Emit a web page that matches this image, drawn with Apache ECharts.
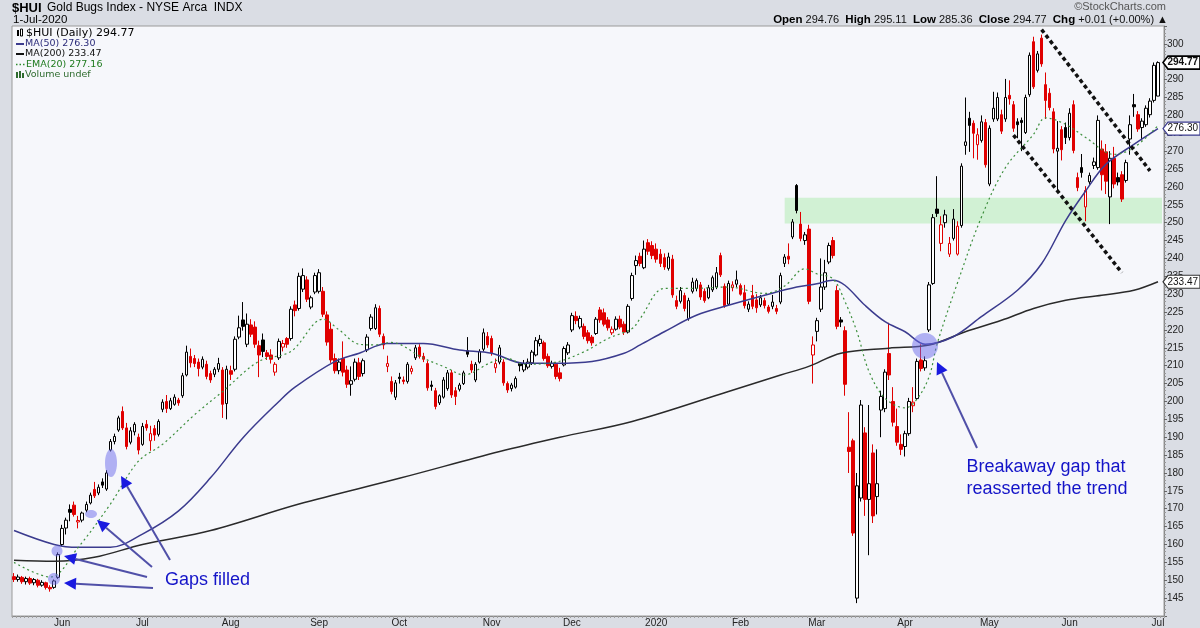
<!DOCTYPE html>
<html><head><meta charset="utf-8">
<script src="https://cdn.jsdelivr.net/npm/echarts@6/dist/echarts.min.js"></script>
<style>html,body{margin:0;padding:0;background:#dadde4}#c{width:1200px;height:628px}</style>
</head><body><div id="c"></div>
<script>
const dates = [
'2019-05-15','2019-05-16','2019-05-17','2019-05-20','2019-05-21','2019-05-22','2019-05-23','2019-05-24','2019-05-28','2019-05-29','2019-05-30','2019-05-31',
'2019-06-03','2019-06-04','2019-06-05','2019-06-06','2019-06-07','2019-06-10','2019-06-11','2019-06-12','2019-06-13','2019-06-14','2019-06-17','2019-06-18','2019-06-19','2019-06-20','2019-06-21','2019-06-24','2019-06-25','2019-06-26','2019-06-27','2019-06-28',
'2019-07-01','2019-07-02','2019-07-03','2019-07-05','2019-07-08','2019-07-09','2019-07-10','2019-07-11','2019-07-12','2019-07-15','2019-07-16','2019-07-17','2019-07-18','2019-07-19','2019-07-22','2019-07-23','2019-07-24','2019-07-25','2019-07-26','2019-07-29','2019-07-30','2019-07-31',
'2019-08-01','2019-08-02','2019-08-05','2019-08-06','2019-08-07','2019-08-08','2019-08-09','2019-08-12','2019-08-13','2019-08-14','2019-08-15','2019-08-16','2019-08-19','2019-08-20','2019-08-21','2019-08-22','2019-08-23','2019-08-26','2019-08-27','2019-08-28','2019-08-29','2019-08-30',
'2019-09-03','2019-09-04','2019-09-05','2019-09-06','2019-09-09','2019-09-10','2019-09-11','2019-09-12','2019-09-13','2019-09-16','2019-09-17','2019-09-18','2019-09-19','2019-09-20','2019-09-23','2019-09-24','2019-09-25','2019-09-26','2019-09-27','2019-09-30',
'2019-10-01','2019-10-02','2019-10-03','2019-10-04','2019-10-07','2019-10-08','2019-10-09','2019-10-10','2019-10-11','2019-10-14','2019-10-15','2019-10-16','2019-10-17','2019-10-18','2019-10-21','2019-10-22','2019-10-23','2019-10-24','2019-10-25','2019-10-28','2019-10-29','2019-10-30','2019-10-31',
'2019-11-01','2019-11-04','2019-11-05','2019-11-06','2019-11-07','2019-11-08','2019-11-11','2019-11-12','2019-11-13','2019-11-14','2019-11-15','2019-11-18','2019-11-19','2019-11-20','2019-11-21','2019-11-22','2019-11-25','2019-11-26','2019-11-27','2019-11-29',
'2019-12-02','2019-12-03','2019-12-04','2019-12-05','2019-12-06','2019-12-09','2019-12-10','2019-12-11','2019-12-12','2019-12-13','2019-12-16','2019-12-17','2019-12-18','2019-12-19','2019-12-20','2019-12-23','2019-12-24','2019-12-26','2019-12-27','2019-12-30','2019-12-31',
'2020-01-02','2020-01-03','2020-01-06','2020-01-07','2020-01-08','2020-01-09','2020-01-10','2020-01-13','2020-01-14','2020-01-15','2020-01-16','2020-01-17','2020-01-21','2020-01-22','2020-01-23','2020-01-24','2020-01-27','2020-01-28','2020-01-29','2020-01-30','2020-01-31',
'2020-02-03','2020-02-04','2020-02-05','2020-02-06','2020-02-07','2020-02-10','2020-02-11','2020-02-12','2020-02-13','2020-02-14','2020-02-18','2020-02-19','2020-02-20','2020-02-21','2020-02-24','2020-02-25','2020-02-26','2020-02-27','2020-02-28',
'2020-03-02','2020-03-03','2020-03-04','2020-03-05','2020-03-06','2020-03-09','2020-03-10','2020-03-11','2020-03-12','2020-03-13','2020-03-16','2020-03-17','2020-03-18','2020-03-19','2020-03-20','2020-03-23','2020-03-24','2020-03-25','2020-03-26','2020-03-27','2020-03-30','2020-03-31',
'2020-04-01','2020-04-02','2020-04-03','2020-04-06','2020-04-07','2020-04-08','2020-04-09','2020-04-13','2020-04-14','2020-04-15','2020-04-16','2020-04-17','2020-04-20','2020-04-21','2020-04-22','2020-04-23','2020-04-24','2020-04-27','2020-04-28','2020-04-29','2020-04-30',
'2020-05-01','2020-05-04','2020-05-05','2020-05-06','2020-05-07','2020-05-08','2020-05-11','2020-05-12','2020-05-13','2020-05-14','2020-05-15','2020-05-18','2020-05-19','2020-05-20','2020-05-21','2020-05-22','2020-05-26','2020-05-27','2020-05-28','2020-05-29',
'2020-06-01','2020-06-02','2020-06-03','2020-06-04','2020-06-05','2020-06-08','2020-06-09','2020-06-10','2020-06-11','2020-06-12','2020-06-15','2020-06-16','2020-06-17','2020-06-18','2020-06-19','2020-06-22','2020-06-23','2020-06-24','2020-06-25','2020-06-26','2020-06-29','2020-06-30',
'2020-07-01'];

// [open, close, low, high]
const ohlc = [
[151.0,150.2,149.5,152.0],[150.2,150.9,149.6,151.6],[150.8,149.6,149.0,151.2],[149.6,150.5,148.8,151.0],[150.5,149.2,148.7,151.0],[149.3,150.2,148.6,150.6],[150.0,148.6,148.0,150.4],[148.6,149.4,148.2,150.0],[149.3,148.0,147.4,149.6],[148.0,147.6,146.8,148.6],
[148.0,149.8,147.6,150.2],[150.8,157.2,150.4,157.8],[160.0,164.5,159.5,165.5],[164.6,166.8,162.8,167.5],[169.8,169.0,166.5,171.2],[171.0,168.4,167.8,172.0],[166.3,166.7,164.5,168.0],[166.8,168.8,166.2,169.2],[169.6,171.2,169.0,172.0],[171.6,173.8,171.2,174.5],
[175.4,173.6,173.0,177.5],[174.4,176.0,173.8,176.8],[177.5,176.6,175.8,178.5],[175.5,180.0,175.0,180.8],[186.4,188.8,186.0,189.5],[188.8,190.2,188.0,191.0],[192.0,195.4,191.5,196.0],[197.2,192.6,192.0,198.6],[192.6,187.4,186.6,194.0],[188.6,191.8,188.0,192.8],
[191.5,193.6,190.5,194.2],[190.0,186.4,185.2,191.0],[188.0,193.0,187.6,194.0],[193.6,192.6,191.8,194.8],[189.0,191.0,186.2,193.2],[192.4,190.6,189.0,193.4],[190.8,194.4,190.2,195.0],[197.8,199.8,197.0,200.6],[200.0,198.0,196.8,201.8],[198.0,200.2,197.6,201.0],
[199.2,201.2,198.8,202.0],[200.4,199.6,198.8,201.0],[201.6,207.2,201.0,208.0],[207.4,213.8,207.0,215.6],[212.6,210.8,209.5,214.8],[212.0,210.6,209.6,213.0],[211.0,209.2,207.0,212.0],[209.6,211.8,209.0,212.6],[210.4,207.0,206.2,211.4],[207.8,206.0,205.2,208.6],
[207.6,209.0,206.8,209.6],[209.0,210.6,208.2,212.2],[208.8,199.2,195.4,209.6],[199.4,209.0,195.0,210.0],[208.6,207.6,206.0,210.0],[209.0,217.4,208.4,218.2],[218.0,220.6,217.4,224.0],[222.8,221.0,219.8,227.8],[216.0,221.6,215.2,224.6],[221.4,218.8,218.0,223.0],
[220.8,216.0,215.0,222.4],[215.6,213.0,206.8,217.0],[217.2,214.0,212.4,219.0],[213.6,212.6,211.6,214.4],[213.0,211.8,210.6,214.6],[208.2,210.4,207.2,211.0],[212.2,216.8,211.6,217.6],[215.2,216.2,214.0,217.2],[217.6,216.0,215.0,218.0],[217.6,225.8,217.0,226.6],
[227.0,225.4,223.8,228.2],[226.0,235.0,225.4,236.0],[231.4,235.2,230.6,237.2],[234.0,228.6,227.8,235.0],[226.4,229.0,225.8,229.6],[230.6,235.2,230.0,236.0],[230.8,236.0,230.2,237.0],[230.8,224.4,223.6,232.0],[224.2,216.6,215.6,225.2],[220.2,211.6,210.8,222.0],
[212.0,208.6,207.8,213.4],[208.6,211.0,207.6,212.0],[212.0,208.2,207.0,216.8],[208.8,204.8,203.8,210.0],[204.8,205.8,201.6,209.8],[206.2,211.0,205.6,212.0],[210.8,207.0,206.0,212.2],[207.8,211.4,207.0,212.0],[214.4,218.0,213.8,218.8],[220.4,223.6,219.8,224.4],
[220.4,226.2,220.0,227.2],[226.0,218.8,218.0,226.8],[218.2,215.8,214.6,219.0],[209.8,210.6,208.2,212.8],[205.6,202.8,202.0,207.0],[201.2,205.2,200.4,206.0],[206.8,206.4,205.0,208.0],[206.0,205.6,204.8,207.0],[205.6,210.4,205.0,211.0],[208.4,209.2,207.6,210.0],
[212.2,215.0,211.6,215.8],[215.2,212.6,212.0,216.0],[212.6,211.8,211.0,213.6],[210.6,203.8,203.0,211.4],[204.6,204.2,203.0,205.8],[203.0,198.6,197.8,203.8],[199.6,201.6,199.0,202.0],[201.2,206.0,200.8,206.8],[203.6,208.0,203.0,208.8],[208.0,201.8,201.0,208.8],
[203.0,201.4,199.0,204.0],[203.4,204.6,202.8,205.2],[205.0,208.0,204.6,208.6],[214.2,213.2,212.4,218.0],[210.4,208.8,208.0,211.4],[206.0,210.4,205.4,211.0],[211.0,214.0,210.6,214.6],[214.6,219.2,214.0,220.4],[218.2,215.8,215.0,219.4],[217.6,213.6,212.8,218.4],
[209.4,210.6,208.0,212.0],[211.0,215.0,210.4,215.8],[211.0,205.2,204.4,211.8],[205.0,203.2,202.4,205.6],[203.6,204.6,202.8,205.2],[204.0,206.4,203.6,207.0],[210.6,210.0,208.4,211.0],[208.8,210.6,208.2,211.6],[209.6,211.0,209.0,212.0],[210.8,213.8,210.2,214.4],
[213.0,217.0,212.6,218.0],[216.2,217.4,215.4,218.6],[216.4,212.0,211.4,217.0],[212.6,210.0,209.4,213.4],[209.8,210.6,209.2,211.4],[210.4,207.0,206.2,211.0],[208.0,206.4,205.6,209.4],[210.2,214.8,209.8,215.4],[213.6,215.8,213.0,216.6],[220.0,224.0,219.4,224.8],
[223.8,222.6,221.6,225.2],[220.8,223.2,220.2,224.0],[221.0,218.2,217.4,221.8],[219.2,217.0,216.2,220.0],[218.0,216.4,215.6,218.6],[219.0,223.0,218.6,223.6],[225.6,222.8,222.0,226.4],[224.8,221.6,221.0,226.0],[222.8,220.6,219.8,223.6],[219.2,220.2,218.6,221.0],
[220.2,223.0,219.8,223.8],[223.0,220.8,220.2,224.0],[221.6,219.4,218.6,222.4],[219.4,226.6,219.0,227.2],[228.8,235.2,228.2,236.0],[238.0,239.4,235.4,240.8],[240.6,238.6,237.8,241.6],[237.4,242.6,237.0,245.0],[244.4,242.0,241.0,245.4],[243.6,240.8,239.8,244.8],
[242.6,239.8,238.8,244.2],[241.2,238.6,237.6,242.6],[240.2,237.6,236.8,241.4],[237.2,240.4,236.6,241.6],[239.8,229.8,229.0,241.0],[228.2,226.6,225.8,229.6],[228.0,231.0,227.4,232.0],[229.6,226.0,225.2,230.4],[223.2,228.2,222.6,229.0],[230.8,233.4,230.2,234.6],
[231.6,233.8,230.8,234.4],[232.6,229.2,228.4,233.4],[230.8,228.2,227.6,231.6],[229.0,231.8,228.6,232.6],[231.2,234.6,230.6,235.2],[232.0,236.0,231.4,237.6],[240.8,235.4,234.8,241.6],[232.2,226.8,226.2,233.0],[227.2,233.0,226.8,233.8],[231.8,232.6,230.8,233.6],
[232.8,234.0,232.0,236.6],[232.4,230.0,229.6,233.0],[230.4,226.8,226.0,232.6],[225.8,227.2,225.0,228.0],[229.6,226.6,225.8,232.6],[228.4,226.2,224.8,230.0],[227.0,229.0,226.4,229.8],[228.2,226.8,226.0,229.0],[226.4,225.2,224.6,227.0],[226.6,227.8,225.8,229.8],
[226.0,225.2,224.4,227.0],[227.8,235.2,227.2,236.0],[238.6,240.4,237.6,241.2],[240.6,239.8,238.4,244.2],[246.0,250.2,245.4,251.0],[260.4,253.4,252.6,260.8],[249.6,245.6,244.8,253.0],[245.0,246.6,243.8,247.4],[248.2,228.0,227.2,249.4],[213.0,215.8,205.0,218.2],
[219.6,222.6,216.8,223.4],[225.8,232.0,225.0,240.0],[232.0,236.0,231.2,239.6],[239.0,243.6,238.4,244.4],[245.0,240.8,240.0,246.0],[231.0,221.0,220.2,232.4],[222.8,222.2,220.8,223.6],[219.8,204.8,201.6,221.0],[187.2,186.0,180.0,197.0],[189.0,163.2,162.4,189.6],
[145.0,176.4,143.6,180.0],[173.0,199.0,172.0,200.4],[191.2,172.6,168.0,192.8],[172.6,177.0,157.0,199.0],[185.6,168.0,166.0,188.0],[173.4,177.0,168.4,186.6],[197.6,201.4,190.0,203.0],[198.0,208.2,197.0,209.0],[213.4,207.4,206.0,222.0],[200.0,194.2,193.0,204.0],
[193.0,188.6,187.6,198.0],[188.0,186.6,185.0,190.8],[187.4,191.0,184.6,191.8],[191.0,200.0,190.4,201.0],[198.8,199.8,197.0,204.0],[200.8,211.2,200.4,212.0],[211.6,209.2,208.4,216.0],[209.4,211.4,208.6,212.6],[220.0,232.6,219.4,233.4],[233.0,251.4,232.6,252.4],
[253.8,252.6,251.6,263.0],[244.2,249.4,242.0,251.8],[250.0,252.2,248.6,253.6],[241.2,244.2,240.4,246.0],[245.6,251.0,245.0,253.8],[241.2,249.0,240.8,250.4],[249.2,265.8,248.6,266.6],[271.6,272.6,269.0,285.0],[279.2,277.2,269.8,281.0],[277.8,275.0,268.0,278.6],
[271.8,274.6,267.6,276.4],[273.0,278.2,272.4,280.0],[278.0,266.2,265.4,279.0],[260.8,276.4,260.2,277.2],[279.0,282.0,278.2,286.6],[279.0,285.0,278.4,286.4],[280.2,275.6,274.8,281.6],[279.0,285.0,278.2,290.2],[285.6,284.6,283.0,289.8],[283.0,276.4,275.4,284.0],
[278.2,277.4,273.6,279.2],[278.6,278.0,270.0,279.4],[275.2,285.0,274.8,285.8],[285.8,296.8,285.2,297.6],[300.6,288.0,287.4,302.0],[292.6,297.2,292.0,298.0],[301.6,294.4,293.6,302.6],[288.6,284.2,279.0,292.0],[286.2,282.2,281.4,287.6],[281.0,270.6,269.4,282.0],
[270.0,270.8,258.4,278.4],[276.0,270.4,267.4,277.0],[276.6,273.8,272.0,278.0],[273.8,280.6,273.0,282.0],[283.0,270.2,269.4,284.2],[262.6,259.8,258.8,264.0],[265.4,264.0,262.6,269.2],[254.4,259.0,250.4,260.2],[261.4,263.2,260.6,264.0],[266.0,267.0,265.0,268.2],
[265.4,278.6,264.8,280.0],[270.6,263.4,259.0,273.0],[269.8,261.6,258.0,272.0],[257.2,268.0,249.6,270.0],[268.0,260.8,259.6,271.2],[262.6,261.4,260.4,264.0],[263.4,256.6,255.8,264.4],[261.8,266.8,261.2,267.6],[273.4,277.4,269.0,280.0],[283.0,282.4,279.6,286.0],
[280.2,276.2,275.4,281.2],[276.6,278.4,273.0,279.2],[277.4,282.0,276.8,282.8],[280.2,284.0,279.4,284.8],[284.2,294.0,283.6,294.8],[285.4,294.77,285.36,295.11]];

// moving averages: [candle index, value]
const ma50 = [[0,163.9],[10,160.0],[16,159.2],[24,159.2],[32,162.9],[41,169.4],[49,178.7],[57,189.8],[66,200.0],[70,204.0],[80,211.2],[86,213.5],[93,216.2],[102,216.2],[111,214.4],[119,213.5],[127,210.7],[135,210.7],[144,211.2],[152,213.5],[156,215.8],[162,219.5],[170,224.1],[178,226.9],[187,229.7],[195,232.0],[200,232.9],[204,233.9],[207,232.5],[212,226.9],[217,222.3],[222,219.5],[227,216.0],[234,218.1],[241,223.7],[250,231.1],[256,238.5],[262,250.6],[267,258.9],[272,266.3],[279,271.9],[285,276.3]];
const ma200 = [[0,155.6],[10,155.3],[20,156.4],[32,160.0],[49,163.9],[71,171.3],[96,178.5],[121,186.0],[136,190.0],[154,194.4],[178,202.8],[191,207.4],[198,209.8],[206,213.5],[218,214.9],[228,215.8],[237,219.5],[246,222.7],[254,226.0],[262,228.3],[271,229.7],[279,231.1],[285,233.47]];
const ema20 = [[0,155.0],[9,150.9],[16,159.2],[24,171.3],[31,183.3],[37,188.0],[45,196.3],[52,202.8],[61,211.2],[69,214.0],[77,223.0],[81,220.0],[86,216.0],[90,215.8],[94,216.5],[102,212.1],[108,209.3],[112,207.4],[119,211.0],[123,212.0],[127,210.4],[135,211.0],[142,213.9],[148,217.6],[154,220.4],[156,223.2],[162,231.6],[169,231.6],[178,232.0],[187,230.2],[192,232.3],[197,237.1],[200,235.7],[204,234.3],[207,228.0],[210,219.5],[213,208.4],[217,200.9],[222,198.2],[225,200.7],[228,207.0],[230,216.2],[235,233.0],[241,251.5],[247,265.4],[254,274.7],[257,279.3],[262,277.5],[267,273.8],[274,269.1],[279,271.0],[285,277.16]];

const gapZone = [192, 249.8, 257.0];           // start index, low, high
const trendLines = [[[256,304.0],[283,264.5]], [[249,274.5],[276,236.0]]];
const lastValues = {price: 294.77, ma50: 276.30, ma200: 233.47, ema20: 277.16};
const monthNames = ['Jan','Feb','Mar','Apr','May','Jun','Jul','Aug','Sep','Oct','Nov','Dec'];

const cats = dates.concat(['']);
const candleData = ohlc.map((d, i) => {
  const prev = i > 0 ? ohlc[i-1][1] : d[0];
  const stroke = d[1] >= prev ? '#000000' : '#e00000';
  const fill = d[1] > d[0] ? '#ffffff' : stroke;
  return {value: d, itemStyle: {color: fill, color0: fill, borderColor: stroke, borderColor0: stroke, borderColorDoji: stroke}};
});

const chart = echarts.init(document.getElementById('c'), null, {renderer: 'canvas'});
const AR = '"Liberation Sans", Arial, sans-serif';
chart.setOption({
  animation: false,
  backgroundColor: '#dadde4',
  grid: {left: 12, right: 36, top: 26, bottom: 9, show: true, backgroundColor: '#f6f7fb', borderColor: '#9a9a9a', borderWidth: 1},
  xAxis: {
    type: 'category', data: cats, boundaryGap: true,
    axisLine: {show: true, lineStyle: {color: '#8a8a8a'}},
    axisTick: {show: true, interval: 0, length: 2, lineStyle: {color: '#a0a0a0'}},
    axisLabel: {
      interval: (idx, val) => idx > 0 && val !== '' && val.slice(5,7) !== cats[idx-1].slice(5,7),
      formatter: v => v.slice(5,7) === '01' ? v.slice(0,4) : monthNames[+v.slice(5,7) - 1],
      fontSize: 10, color: '#222', margin: 2, fontFamily: AR
    },
    splitLine: {show: false}
  },
  yAxis: {
    type: 'value', position: 'right', min: 140, max: 305, interval: 5, scale: true,
    axisLine: {show: true, lineStyle: {color: '#8a8a8a'}},
    axisTick: {show: true, length: 3, lineStyle: {color: '#666'}},
    minorTick: {show: true, splitNumber: 5, length: 2, lineStyle: {color: '#999'}},
    axisLabel: {fontSize: 10, color: '#222', margin: 3, showMinLabel: false, showMaxLabel: false, fontFamily: AR},
    splitLine: {show: false}
  },
  series: [
    {type: 'line', data: [], z: 1, silent: true,
     markArea: {silent: true, itemStyle: {color: 'rgba(140,228,140,0.35)'},
       data: [[{xAxis: gapZone[0], yAxis: gapZone[1]}, {xAxis: cats.length - 1, yAxis: gapZone[2]}]]}},
    {type: 'candlestick', data: candleData, barWidth: 3, z: 3},
    {type: 'line', name: 'MA200', data: ma200, smooth: 0.35, showSymbol: false, z: 4, lineStyle: {color: '#2a2a2a', width: 1.5}},
    {type: 'line', name: 'MA50', data: ma50, smooth: 0.35, showSymbol: false, z: 4, lineStyle: {color: '#3b3b8e', width: 1.5}},
    {type: 'line', name: 'EMA20', data: ema20, smooth: 0.35, showSymbol: false, z: 4, lineStyle: {color: '#3d8f3d', width: 1.2, type: [2,3]}},
    {type: 'line', data: [], z: 5, silent: true,
     markLine: {silent: true, symbol: ['none','none'], label: {show: false},
       lineStyle: {color: '#111', width: 3.5, type: [4,3]},
       data: trendLines.map(l => [{coord: l[0]}, {coord: l[1]}])}}
  ]
});

function arrow(x1, y1, x2, y2) {
  const dx = x2 - x1, dy = y2 - y1, L = Math.hypot(dx, dy), ux = dx / L, uy = dy / L;
  const bx = x2 - 12 * ux, by = y2 - 12 * uy, px = -uy, py = ux;
  return [
    {type: 'line', z: 100, shape: {x1, y1, x2: bx, y2: by}, style: {stroke: '#5050a8', lineWidth: 2}},
    {type: 'polygon', z: 101, shape: {points: [[x2, y2], [bx + 6 * px, by + 6 * py], [bx - 6 * px, by - 6 * py]]}, style: {fill: '#1a1ae0'}}
  ];
}
function tag(v, color, bold) {
  const y = chart.convertToPixel({yAxisIndex: 0}, v);
  return [
    {type: 'polygon', z: 110, shape: {points: [[1163, y], [1168, y - 6.5], [1200, y - 6.5], [1200, y + 6.5], [1168, y + 6.5]]}, style: {fill: '#ffffff', stroke: color, lineWidth: bold ? 1.6 : 1.2}},
    {type: 'text', z: 111, x: 1167.5, y: y, style: {text: v.toFixed(2), fill: '#111', font: (bold ? 'bold ' : '') + '10px ' + AR, textVerticalAlign: 'middle'}}
  ];
}
function txt(x, y, text, font, fill, align) {
  return {type: 'text', z: 100, x, y, style: {text, font, fill: fill || '#000', textAlign: align || 'left', textVerticalAlign: 'middle'}};
}
const blob = 'rgba(105,105,235,0.5)';
const DV = '"DejaVu Sans", Verdana, sans-serif';
let g = [
  // header
  txt(12, 8, '$HUI', 'bold 13px ' + AR),
  txt(47, 8, 'Gold Bugs Index - NYSE Arca  INDX', '12px ' + AR),
  txt(13, 20, '1-Jul-2020', '11.5px ' + AR),
  txt(1166, 7, '\u00a9StockCharts.com', '11px ' + AR, '#555', 'right'),
  {type: 'text', z: 100, x: 1168, y: 20, style: {
    text: '{b|Open} 294.76  {b|High} 295.11  {b|Low} 285.36  {b|Close} 294.77  {b|Chg} +0.01 (+0.00%) \u25b2',
    font: '11px ' + AR, fill: '#111', textAlign: 'right', textVerticalAlign: 'middle',
    rich: {b: {fontWeight: 'bold', fontSize: 11.5, fontFamily: AR, fill: '#000'}}}},
  // legend
  {type: 'rect', z: 100, shape: {x: 17, y: 30, width: 2, height: 6}, style: {fill: '#000'}},
  {type: 'rect', z: 100, shape: {x: 20.5, y: 29, width: 2, height: 7}, style: {fill: '#fff', stroke: '#000', lineWidth: 1}},
  txt(26, 33, '$HUI (Daily) 294.77', '11px ' + DV, '#000'),
  {type: 'line', z: 100, shape: {x1: 16, y1: 44, x2: 24, y2: 44}, style: {stroke: '#3b3b8e', lineWidth: 2}},
  txt(25, 44, 'MA(50) 276.30', '9.5px ' + DV, '#2b2b7a'),
  {type: 'line', z: 100, shape: {x1: 16, y1: 54, x2: 24, y2: 54}, style: {stroke: '#111', lineWidth: 2}},
  txt(25, 54, 'MA(200) 233.47', '9.5px ' + DV, '#111'),
  {type: 'line', z: 100, shape: {x1: 16, y1: 64.5, x2: 25, y2: 64.5}, style: {stroke: '#2e8b2e', lineWidth: 1.5, lineDash: [1.5, 2]}},
  txt(26, 64.5, 'EMA(20) 277.16', '9.5px ' + DV, '#1e7a1e'),
  {type: 'rect', z: 100, shape: {x: 16, y: 72, width: 2, height: 6}, style: {fill: '#2e6b2e'}},
  {type: 'rect', z: 100, shape: {x: 19, y: 71, width: 2, height: 7}, style: {fill: '#2e6b2e'}},
  {type: 'rect', z: 100, shape: {x: 22, y: 73, width: 2, height: 5}, style: {fill: '#2e6b2e'}},
  txt(25, 75, 'Volume undef', '9.5px ' + DV, '#2e6b2e'),
  // annotations
  {type: 'ellipse', z: 99, shape: {cx: 54, cy: 579, rx: 6, ry: 6}, style: {fill: blob}},
  {type: 'ellipse', z: 99, shape: {cx: 57, cy: 551, rx: 5.5, ry: 5.5}, style: {fill: blob}},
  {type: 'ellipse', z: 99, shape: {cx: 91, cy: 514, rx: 6, ry: 4}, style: {fill: blob}},
  {type: 'ellipse', z: 99, shape: {cx: 111, cy: 463, rx: 6, ry: 14}, style: {fill: blob}},
  {type: 'ellipse', z: 99, shape: {cx: 925, cy: 346, rx: 13, ry: 13}, style: {fill: blob}},
  txt(165, 580, 'Gaps filled', '18px ' + AR, '#1414c8'),
  txt(1046, 467, 'Breakaway gap that', '18px ' + AR, '#1414c8', 'center'),
  txt(1047, 489, 'reasserted the trend', '18px ' + AR, '#1414c8', 'center')
];
g = g.concat(arrow(153, 588, 64, 583), arrow(147, 577, 64, 556), arrow(152, 567, 97, 520), arrow(170, 560, 121, 476), arrow(977, 448, 937, 362));
g = g.concat(tag(lastValues.ma200, '#333', false), tag(lastValues.ma50, '#3b3b8e', false), tag(lastValues.price, '#000', true));
chart.setOption({graphic: g});
</script></body></html>
